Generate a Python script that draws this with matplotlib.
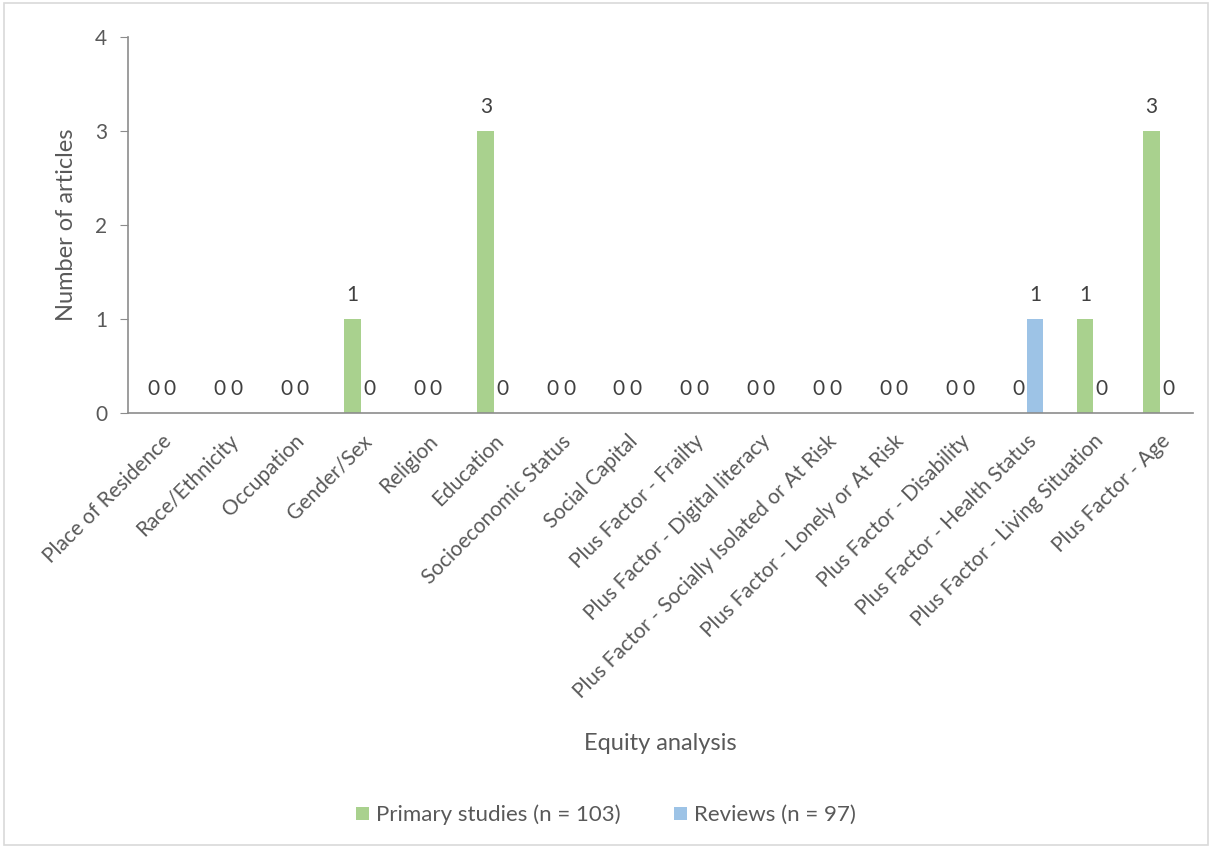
import numpy as np
import matplotlib
matplotlib.use("Agg")
import matplotlib.pyplot as plt

categories = ["Place of Residence", "Race/Ethnicity", "Occupation", "Gender/Sex",
              "Religion", "Education", "Socioeconomic Status", "Social Capital",
              "Plus Factor - Frailty", "Plus Factor - Digital literacy",
              "Plus Factor - Socially Isolated or At Risk",
              "Plus Factor - Lonely or At Risk", "Plus Factor - Disability",
              "Plus Factor - Health Status", "Plus Factor - Living Situation",
              "Plus Factor - Age"]
primary = [0, 0, 0, 1, 0, 3, 0, 0, 0, 0, 0, 0, 0, 0, 1, 3]
reviews = [0, 0, 0, 0, 0, 0, 0, 0, 0, 0, 0, 0, 0, 1, 0, 0]
series_names = ["Primary studies (n = 103)", "Reviews (n = 97)"]

plt.rcParams['font.family'] = ['Lato', 'DejaVu Sans']
txt = '#595959'
green = '#A9D18E'
blue = '#9DC3E6'

fig = plt.figure(figsize=(12.12, 8.48), dpi=100)
ax = fig.add_axes([128/1212, 1-413/848, (1193-128)/1212, (413-37)/848])

x = np.arange(len(categories))
w = 0.25
b1 = ax.bar(x - w/2, primary, w, color=green, label=series_names[0])
b2 = ax.bar(x + w/2, reviews, w, color=blue, label=series_names[1])

for bars, vals in [(b1, primary), (b2, reviews)]:
    for r, v in zip(bars, vals):
        ax.annotate(str(v), (r.get_x() + r.get_width()/2, v), xytext=(0, 10),
                    textcoords='offset points', ha='center', va='bottom',
                    fontsize=15, color='#404040')

ax.set_xlim(-0.5, len(categories) - 0.5)
ax.set_ylim(0, 4)
ax.set_yticks([0, 1, 2, 3, 4])
ax.set_xticks(x)
ax.set_xticklabels(categories, rotation=45, ha='right', va='top',
                   rotation_mode='anchor', fontsize=15, color=txt)
ax.tick_params(axis='x', length=0, pad=13)
ax.tick_params(axis='y', labelsize=15, colors=txt, length=6, pad=9)
ax.tick_params(axis='y', color='#8c8c8c')
for s in ['top', 'right']:
    ax.spines[s].set_visible(False)
for s in ['left', 'bottom']:
    ax.spines[s].set_color('#8c8c8c')
    ax.spines[s].set_linewidth(1.2)

ax.set_ylabel('Number of articles', fontsize=17, color=txt, labelpad=13)
fig.text((128+1193)/2/1212, 1-743/848, 'Equity analysis', ha='center', va='center',
         fontsize=17, color=txt)

fig.legend(handles=[b1, b2], loc='center', bbox_to_anchor=(0.5, 1-815/848),
           ncol=2, frameon=False, fontsize=16, labelcolor=txt,
           handlelength=0.6, handleheight=0.5, handletextpad=0.3, columnspacing=2.4)

fig.patches.append(plt.Rectangle((0.003, 0.003), 0.994, 0.994, transform=fig.transFigure,
                                 fill=False, edgecolor='#d9d9d9', linewidth=1.2))

fig.savefig('out.png', dpi=100)
